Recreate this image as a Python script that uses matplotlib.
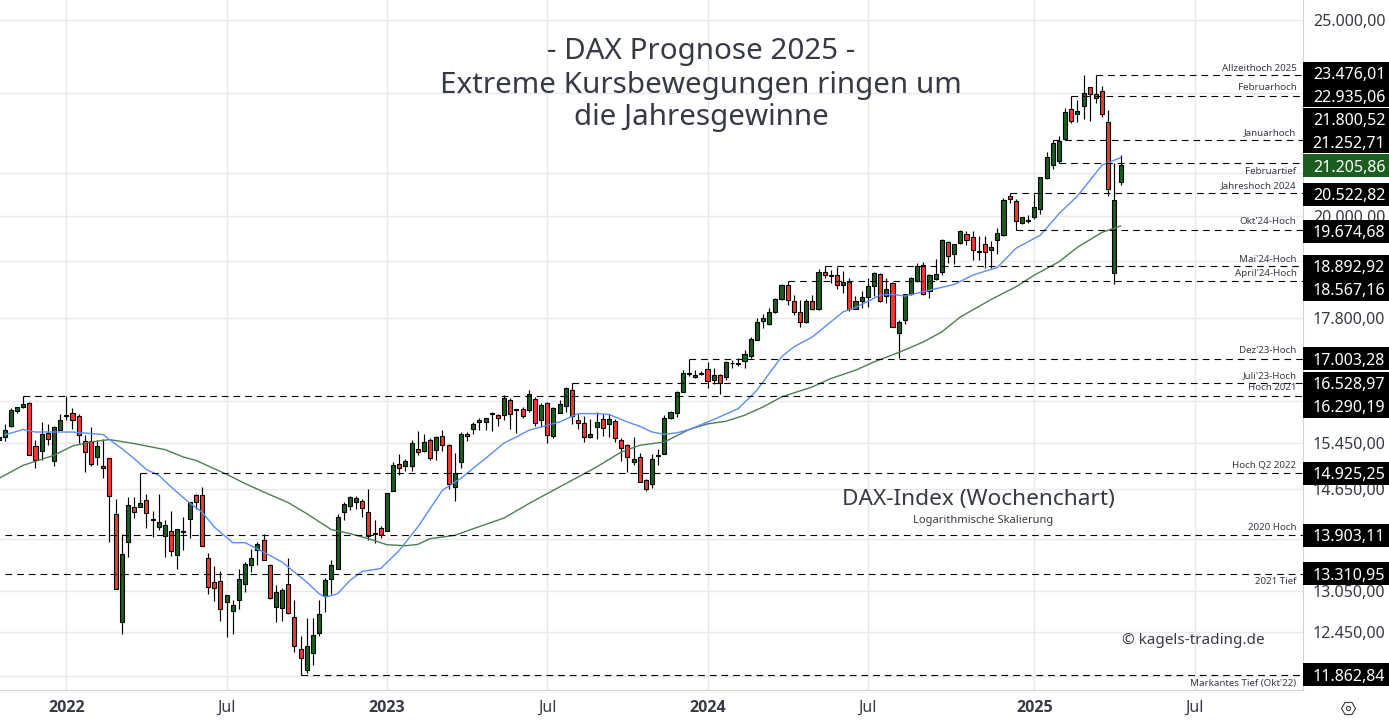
# DAX Wochenchart mit Kerzen, zwei Durchschnitten und Kursmarken

import numpy as np
import matplotlib
matplotlib.use("Agg")
import matplotlib.pyplot as plt
from matplotlib.lines import Line2D
from matplotlib.patches import Rectangle

# Kerzen (Wochen, erste Kerze ragt links aus dem Bild)
eroeffnung = [15506, 15553, 15750, 16020, 16093, 16173, 15400, 15312, 15630, 15133,
              15677, 15930, 15990, 15936, 15488, 15488, 15208, 15053, 15179, 14252,
              12601, 13804, 14366, 14366, 14481, 14150, 14043, 13899, 13979, 13601,
              13960, 14171, 14564, 14564, 13555, 13189, 13204, 12892, 12760, 12921,
              13159, 13448, 13678, 13836, 13448, 12818, 12804, 13159, 12673, 12219,
              11930, 12164, 12444, 12980, 13234, 13386, 14284, 14382, 14448, 14465,
              14284, 13925, 14026, 13979, 14630, 15087, 15053, 15053, 15347, 15312,
              15506, 15330, 15577, 15418, 14697, 15121, 15612, 15701, 15827, 15827,
              15965, 15954, 15954, 16228, 16040, 16062, 16044, 16247, 15863, 16173,
              15571, 15990, 16118, 16415, 15863, 15809, 15559, 15737, 15881, 15791,
              15845, 15506, 15418, 15121, 15204, 14814, 14747, 15220, 15260, 15899,
              15990, 16377, 16710, 16660, 16717, 16812, 16603, 16698, 16660, 16910,
              16905, 16965, 17063, 17376, 17737, 17677, 17920, 18187, 18479, 18146,
              17920, 17717, 18146, 17981, 18755, 18685, 18691, 18479, 18543, 18001,
              18146, 18229, 18458, 18712, 18250, 18522, 17515, 17777, 18291, 18564,
              18915, 18353, 18606, 18755, 19408, 19145, 19386, 19585, 19518, 19205,
              19364, 19232, 19452, 19562, 20452, 20335, 19832, 19895, 19968, 20151,
              20875, 21187, 21284, 21824, 22583, 22455, 22668, 23156, 22972, 23050,
              22251, 18734, 20780]
hoch = [15582, 15780, 16070, 16100, 16290, 16191, 15494, 15815, 15779, 15755,
        15960, 16290, 16075, 15972, 15582, 15725, 15506, 15524, 15190, 14498,
        13931, 14531, 14531, 14925, 14581, 14301, 14581, 14155, 14301, 14011,
        14203, 14450, 14581, 14697, 13632, 13432, 13350, 12995, 12921, 13386,
        13494, 13694, 13804, 13931, 13463, 13144, 13099, 13555, 12921, 12402,
        12658, 12658, 12921, 13249, 13524, 14252, 14448, 14547, 14547, 14498,
        14664, 14144, 14059, 14598, 15116, 15260, 15172, 15506, 15653, 15612,
        15541, 15577, 15683, 15425, 15278, 15647, 15647, 15827, 15899, 15899,
        16008, 15972, 16321, 16265, 16062, 16099, 16415, 16284, 16173, 16191,
        16085, 16228, 16470, 16529, 15972, 15923, 15881, 16008, 15972, 15972,
        15881, 15541, 15436, 15559, 15278, 14820, 15260, 15347, 15954, 16026,
        16385, 16793, 17003, 16793, 16774, 16946, 16831, 16717, 16950, 16985,
        17023, 17180, 17436, 17798, 17879, 18021, 18208, 18500, 18567, 18271,
        18166, 18187, 18271, 18819, 18893, 18798, 18871, 18777, 18627, 18250,
        18353, 18627, 18755, 18734, 18627, 18543, 17777, 18311, 18649, 18958,
        18979, 18712, 19035, 19474, 19430, 19370, 19674, 19652, 19652, 19541,
        19541, 19430, 19719, 20404, 20523, 20382, 19975, 20014, 20500, 20905,
        21503, 21800, 21916, 22610, 22935, 22815, 23476, 23160, 23476, 23182,
        22557, 21253, 21429]
tief = [15476, 15476, 15730, 15985, 16068, 15230, 15019, 15156, 15412, 15047,
        15670, 15863, 15701, 15447, 14945, 15047, 15064, 14843, 13799, 13075,
        12430, 13565, 14182, 14360, 14021, 13878, 13995, 13565, 13586, 13380,
        13678, 13867, 14333, 13735, 13005, 12901, 12615, 12383, 12425, 12789,
        13034, 13335, 13437, 13520, 12930, 12596, 12615, 12717, 12178, 11863,
        11890, 11999, 12402, 12736, 13010, 13380, 14155, 14306, 14328, 14198,
        13825, 13783, 13863, 13975, 14625, 14893, 14962, 14962, 15237, 15295,
        15156, 15150, 15306, 14664, 14459, 15020, 15483, 15612, 15683, 15683,
        15659, 15755, 15863, 15701, 15624, 15899, 16008, 15755, 15731, 15447,
        15541, 15985, 16008, 15791, 15701, 15465, 15541, 15524, 15571, 15553,
        15465, 15132, 14939, 15070, 14775, 14630, 14680, 15070, 15255, 15881,
        15917, 16370, 16679, 16641, 16698, 16452, 16527, 16340, 16603, 16831,
        16870, 16831, 17023, 17370, 17616, 17670, 17915, 18180, 18082, 17859,
        17636, 17710, 17975, 17975, 18627, 18522, 18395, 18332, 17960, 17981,
        18021, 18035, 18250, 18140, 18105, 17630, 17023, 17677, 18285, 18560,
        18271, 18208, 18600, 18691, 18950, 18929, 19380, 19342, 19014, 19014,
        18841, 18841, 19145, 19555, 20289, 19674, 19810, 19832, 19922, 20037,
        20870, 21090, 21253, 21799, 22225, 22251, 22327, 22276, 22739, 22378,
        20452, 18500, 20710]
schluss = [15553, 15671, 16044, 16087, 16142, 15242, 15156, 15612, 15518, 15737,
           15863, 15940, 15863, 15594, 15295, 15087, 15400, 15019, 14547, 13084,
           13617, 14399, 14284, 14432, 14268, 14160, 14123, 14075, 13663, 14011,
           13970, 14448, 14448, 13741, 13114, 13099, 12789, 12995, 12848, 13234,
           13463, 13555, 13773, 13524, 12946, 13039, 13069, 12731, 12261, 12095,
           12261, 12416, 12717, 13219, 13448, 14203, 14415, 14531, 14514, 14350,
           13889, 13935, 13910, 14598, 15070, 15020, 15138, 15453, 15295, 15471,
           15191, 15559, 15418, 14747, 14933, 15612, 15577, 15791, 15863, 15899,
           15980, 15899, 16265, 15972, 16050, 15936, 16340, 15809, 16136, 15594,
           16081, 16155, 16452, 15936, 15809, 15559, 15612, 15827, 15719, 15881,
           15541, 15365, 15204, 15172, 14780, 14664, 15172, 15230, 15899, 16008,
           16377, 16736, 16720, 16698, 16736, 16584, 16698, 16546, 16946, 16920,
           16915, 17102, 17396, 17717, 17798, 17920, 18187, 18479, 18166, 17920,
           17717, 18146, 17981, 18755, 18691, 18695, 18479, 18543, 17981, 18146,
           18229, 18458, 18734, 18146, 18395, 17636, 17717, 18311, 18627, 18893,
           18291, 18691, 18713, 19452, 19101, 19364, 19652, 19452, 19232, 19215,
           19188, 19298, 19607, 20358, 20382, 19877, 19968, 19905, 20197, 20899,
           21381, 21725, 21774, 22508, 22276, 22532, 22998, 22972, 22868, 22455,
           20616, 20358, 21187]
woche = np.arange(-1, 182)

blau_woche = [0, 3, 5, 11, 16, 17, 19, 21, 23, 25, 27, 30, 32, 34, 37, 39, 42, 45, 47, 49,
              51, 52, 54, 56, 58, 61, 64, 67, 71, 74, 77, 79, 81, 83, 85, 87, 90, 93, 96, 98,
              101, 103, 105, 107, 109, 111, 115, 119, 122, 126, 128, 131, 136, 138, 142, 144, 146, 150, 154, 157,
              161, 164, 168, 171, 174, 178, 181]
blau_wert = [15590, 15684, 15640, 15640, 15595, 15506, 15348, 15174, 14985, 14888, 14691, 14425, 14279, 14037, 13789, 13789, 13642, 13488, 13334, 13184,
             13010, 12960, 13010, 13209, 13345, 13390, 13668, 14037, 14636, 14837, 15093, 15266, 15446, 15553, 15671, 15732, 15820, 15971, 15971, 15958,
             15820, 15743, 15640, 15600, 15625, 15684, 15864, 16063, 16402, 17037, 17232, 17428, 17933, 18022, 18277, 18296, 18256, 18381, 18500, 18698,
             18862, 19276, 19570, 20052, 20460, 21195, 21372]
gruen_woche = [-1, 3, 8, 11, 14, 17, 21, 26, 29, 31, 36, 39, 42, 46, 49, 53, 56, 59, 62, 65,
               67, 69, 73, 76, 81, 85, 88, 92, 96, 100, 103, 107, 111, 114, 117, 120, 123, 126, 131, 134,
               138, 141, 145, 149, 152, 155, 160, 164, 167, 171, 174, 178, 181]
gruen_wert = [14832, 15058, 15231, 15393, 15464, 15506, 15436, 15330, 15201, 15144, 14905, 14748, 14609, 14432, 14252, 13995, 13932, 13852, 13757, 13741,
              13762, 13852, 13904, 14010, 14181, 14415, 14581, 14803, 15029, 15288, 15405, 15464, 15684, 15785, 15833, 15941, 16092, 16277, 16464, 16622,
              16780, 16939, 17122, 17329, 17528, 17828, 18187, 18450, 18698, 18984, 19300, 19632, 19775]

# Kursmarken rechts
marken_wert = [23476.01, 22935.06, 21800.52, 21252.71, 20522.82, 19674.68, 18892.92, 18567.16,
               17003.28, 16528.97, 16290.19, 14925.25, 13903.11, 13310.95, 11862.84]
marken_text = ["Allzeithoch 2025", "Februarhoch", "Januarhoch", "Februartief", "Jahreshoch 2024",
               "Okt'24-Hoch", "Mai'24-Hoch", "April'24-Hoch", "Dez'23-Hoch", "Juli'23-Hoch",
               "Hoch 2021", "Hoch Q2 2022", "2020 Hoch", "2021 Tief", "Markantes Tief (Okt'22)"]
marken_start = [177, 173, 170, 171, 163, 164, 133, 127, 111, 92, 3, 22, 0, 0, 48]
letzter_kurs = 21205.86

# Gitterlinien; ohne Text, wo die Kaesten die Zahl ganz verdecken
y_ticks = [25000, 23000, 21000, 20000, 19000, 17800, 16200, 15450, 14650, 13850, 13050, 12450, 11850]
y_verdeckt = [23000, 21000, 19000, 16200, 13850, 11850]
x_ticks = [10, 36, 62, 88, 114, 140, 167, 193]
x_labels = ["2022", "Jul", "2023", "Jul", "2024", "Jul", "2025", "Jul"]


def preis_text(p):
    return f"{p:,.2f}".replace(",", "#").replace(".", ",").replace("#", ".")


plt.rcParams['font.family'] = ['Noto Sans', 'DejaVu Sans']
BREITE, HOEHE = 1389, 722
TEXT = '#363a45'

fig = plt.figure(figsize=(BREITE / 100, HOEHE / 100), dpi=100)
ax = fig.add_axes([0, 32 / HOEHE, 1302.5 / BREITE, 690 / HOEHE])

ax.set_yscale('log')
ax.set_ylim(11660, 25575)
ax.set_xlim(-0.754, 210.5)
ax.yaxis.tick_right()
ax.set_yticks(y_ticks)
ax.set_yticklabels(["" if p in y_verdeckt else preis_text(p) for p in y_ticks])
ax.minorticks_off()
ax.set_xticks(x_ticks)
ax.set_xticklabels(x_labels)
ax.tick_params(axis='both', length=0, labelsize=11.5, labelcolor=TEXT)
ax.tick_params(axis='x', pad=7)
ax.tick_params(axis='y', pad=7.5)
for lab in ax.get_xticklabels():
    if lab.get_text() != "Jul":
        lab.set_fontfamily('Open Sans')
        lab.set_fontweight('bold')
ax.grid(True, color='#e8e9ef', linewidth=1)
ax.set_axisbelow(True)
for s in ['top', 'left']:
    ax.spines[s].set_visible(False)
for s in ['right', 'bottom']:
    ax.spines[s].set_color('#d1d4dc')

# Kerzen
o = np.array(eroeffnung)
c = np.array(schluss)
farben = np.where(c >= o, '#1b5e20', '#f23b2f')
ax.vlines(woche, tief, hoch, color='black', linewidth=0.85, zorder=3)
ax.bar(woche, np.abs(c - o), bottom=np.minimum(o, c), width=0.66, color=farben,
       edgecolor='black', linewidth=0.8, zorder=4)

# Durchschnitte
ax.plot(gruen_woche, gruen_wert, color='#4d7f4f', linewidth=1, zorder=5)
ax.plot(blau_woche, blau_wert, color='#5b8df6', linewidth=1, zorder=5)

# gestrichelte Marken
for start, wert in zip(marken_start, marken_wert):
    ax.plot([start, 210.5], [wert, wert], color='black', linewidth=0.8, linestyle=(0, (6, 4.5)), zorder=6)

# Versatz der Beschriftung gegenueber der Linie, in Pixeln
text_versatz = [7, 8, 8, -9, 8, 9, 7, 8, 8, 8, 9, 8, 8, -8, -9]
for wert, t, dy in zip(marken_wert, marken_text, text_versatz):
    ax.annotate(t, xy=(1, wert), xycoords=('axes fraction', 'data'), xytext=(-6, dy), textcoords='offset pixels',
                ha='right', va='center', fontsize=7, color=TEXT, zorder=7)

# schwarze Kaesten ueber der Preisachse
box_versatz = [2, 0, 21, 21, -1, -1, 0, -8, 0, 0, -10, 0, 0, 0, 0]
for wert, dy in zip(marken_wert, box_versatz):
    ypx = ax.transData.transform((0, wert))[1] + dy
    fig.add_artist(Rectangle((1303 / BREITE, (ypx - 11.5) / HOEHE), 86 / BREITE, 23 / HOEHE,
                             transform=fig.transFigure, facecolor='black', edgecolor='none'))
    fig.text(1349 / BREITE, ypx / HOEHE, preis_text(wert), color='white', fontsize=11.5,
             ha='center', va='center_baseline')
ypx = ax.transData.transform((0, letzter_kurs))[1] - 1
fig.add_artist(Rectangle((1303 / BREITE, (ypx - 11.5) / HOEHE), 86 / BREITE, 23 / HOEHE,
                         transform=fig.transFigure, facecolor='#1b5e20', edgecolor='none'))
fig.text(1349 / BREITE, ypx / HOEHE, preis_text(letzter_kurs), color='white', fontsize=11.5,
         ha='center', va='center_baseline')

# Titel und Hinweise
titel = ["- DAX Prognose 2025 -", "Extreme Kursbewegungen ringen um", "die Jahresgewinne"]
for zeile, ypos in zip(titel, [52, 85, 117]):
    fig.text(701 / BREITE, 1 - ypos / HOEHE, zeile, fontsize=21.3, color=TEXT, ha='center', va='center')
fig.text(978 / BREITE, 1 - 499 / HOEHE, "DAX-Index (Wochenchart)", fontsize=16.3, color=TEXT, ha='center', va='center')
fig.text(983 / BREITE, 1 - 521 / HOEHE, "Logarithmische Skalierung", fontsize=8, color=TEXT, ha='center', va='center')
fig.text(1122 / BREITE, 1 - 641 / HOEHE, "© kagels-trading.de", fontsize=11, color=TEXT, ha='left', va='center')

# Zahnrad unten rechts
fig.add_artist(Line2D([1348 / BREITE], [1 - 708 / HOEHE], marker='H', markersize=10, mfc='none', mec=TEXT, mew=0.8,
                      transform=fig.transFigure))
fig.add_artist(Line2D([1348 / BREITE], [1 - 708 / HOEHE], marker='o', markersize=3, mfc='none', mec=TEXT, mew=0.8,
                      transform=fig.transFigure))

fig.savefig("out.png", dpi=100)
